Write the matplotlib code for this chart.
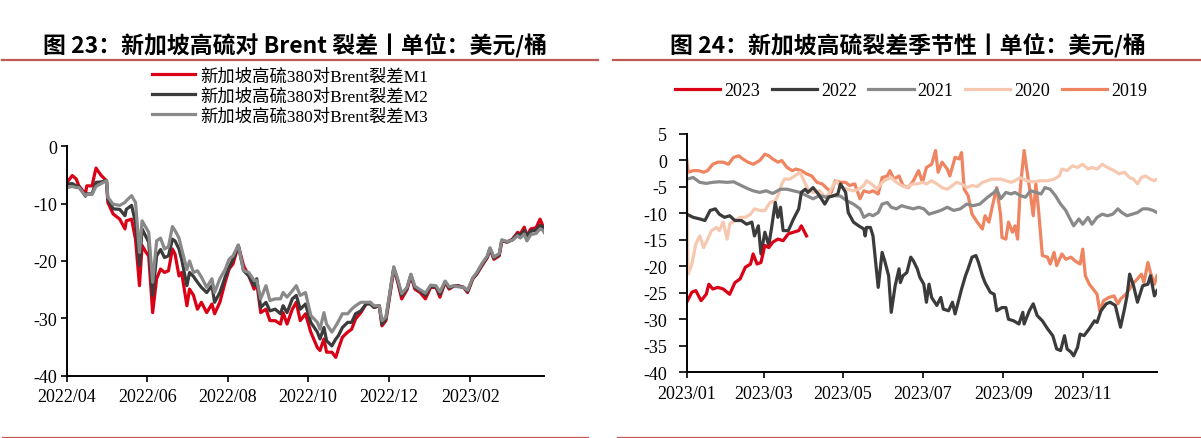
import matplotlib
matplotlib.use("Agg")
from matplotlib import pyplot as plt
from matplotlib.lines import Line2D
import matplotlib.dates as mdates
import pandas as pd

plt.rcParams['font.family'] = ['Liberation Serif', 'Noto Sans CJK SC']
plt.rcParams['axes.unicode_minus'] = False

# ---- left chart: Singapore HSFO 380 vs Brent crack, M1/M2/M3 ----
left_start = "2022-04-01"
left_days = [0, 4, 7, 9, 14, 15, 19, 22, 26, 30,
             31, 35, 40, 44, 45, 49, 52, 55, 57, 60,
             62, 65, 68, 71, 74, 77, 80, 82, 85, 87,
             91, 93, 96, 99, 102, 106, 110, 112, 116, 120,
             123, 126, 130, 134, 138, 142, 144, 147, 151, 154,
             158, 162, 164, 167, 171, 174, 177, 181, 185, 190,
             192, 195, 197, 201, 204, 206, 209, 213, 216, 219,
             223, 227, 230, 233, 237, 239, 242, 245, 248, 251,
             254, 258, 261, 264, 268, 272, 276, 280, 283, 287,
             290, 294, 297, 301, 304, 308, 311, 315, 319, 321,
             324, 328, 330, 334, 338, 342, 344, 347, 349, 352,
             356, 359, 361, 362]
m1 = [-6.3, -5.1, -5.7, -6.9, -8.3, -6.9, -6.9, -3.8, -5.1, -6.0,
      -9.8, -11.8, -12.7, -14.4, -13.0, -12.7, -16.2, -24.3, -17.3, -18.5,
      -19.1, -29.0, -23.1, -21.4, -22.0, -21.7, -17.9, -18.8, -22.6, -22.0,
      -27.8, -24.9, -26.0, -28.4, -27.2, -29.0, -27.5, -29.2, -27.2, -23.7,
      -21.4, -20.5, -17.3, -20.8, -22.6, -24.9, -23.7, -29.0, -28.4, -30.4,
      -30.4, -31.0, -29.0, -31.0, -28.4, -27.2, -30.4, -29.2, -32.4, -35.1,
      -35.6, -33.6, -35.9, -35.9, -36.8, -35.3, -33.3, -32.4, -31.9, -30.1,
      -29.0, -27.5, -27.2, -28.1, -27.8, -31.3, -30.4, -26.0, -21.4, -23.7,
      -26.6, -25.0, -22.6, -24.9, -25.5, -26.6, -24.6, -24.6, -26.3, -23.7,
      -24.9, -24.3, -24.3, -24.6, -25.5, -23.1, -22.3, -20.8, -19.4, -17.9,
      -19.7, -19.1, -16.5, -16.7, -16.2, -15.0, -15.3, -14.1, -15.6, -14.4,
      -14.2, -12.7, -13.8, -14.4]
m2 = [-6.6, -6.5, -6.9, -7.0, -8.7, -8.3, -8.3, -6.3, -6.2, -6.0,
      -9.2, -10.9, -11.0, -12.1, -11.0, -10.3, -13.3, -20.8, -14.4, -15.8,
      -16.7, -26.0, -19.1, -18.0, -19.4, -19.1, -16.2, -16.5, -17.9, -19.7,
      -24.3, -22.0, -22.7, -23.7, -24.6, -25.5, -24.3, -27.2, -25.5, -22.8,
      -21.1, -19.7, -17.3, -21.7, -22.6, -24.3, -23.1, -28.1, -27.2, -28.7,
      -28.4, -29.2, -27.8, -29.0, -26.6, -26.0, -28.4, -27.5, -30.7, -32.4,
      -33.6, -31.6, -33.9, -34.8, -33.6, -33.0, -31.6, -30.7, -30.7, -29.2,
      -28.7, -27.5, -27.5, -28.1, -27.8, -31.0, -30.1, -25.7, -21.2, -23.4,
      -26.0, -24.8, -22.4, -24.6, -25.2, -26.0, -24.4, -24.5, -25.8, -23.6,
      -24.7, -24.3, -24.4, -24.6, -25.3, -23.0, -22.2, -20.6, -19.3, -17.8,
      -19.5, -18.9, -16.4, -16.7, -16.3, -15.3, -15.6, -14.7, -15.6, -14.8,
      -14.6, -13.8, -14.0, -14.5]
m3 = [-7.2, -7.0, -7.2, -7.2, -8.6, -8.4, -8.4, -7.0, -6.5, -6.0,
      -8.9, -10.1, -10.3, -9.8, -9.5, -8.6, -9.8, -18.5, -13.0, -14.2,
      -15.0, -23.7, -16.5, -16.0, -17.9, -17.5, -14.0, -14.7, -16.0, -17.9,
      -21.5, -20.0, -22.0, -21.7, -22.8, -24.6, -23.1, -25.5, -23.1, -21.5,
      -19.7, -19.1, -17.2, -21.7, -22.0, -23.4, -23.4, -26.6, -24.3, -26.9,
      -26.6, -26.6, -25.5, -26.3, -25.2, -24.3, -26.0, -25.5, -29.5, -30.7,
      -31.9, -29.0, -31.0, -32.4, -31.3, -30.5, -29.2, -29.2, -28.4, -27.8,
      -27.2, -27.2, -27.2, -27.8, -27.8, -30.4, -29.8, -25.5, -21.0, -23.2,
      -25.7, -24.6, -22.3, -24.4, -25.0, -25.6, -24.2, -24.3, -25.4, -23.5,
      -24.5, -24.3, -24.5, -24.6, -25.1, -22.9, -22.0, -20.4, -19.1, -17.7,
      -19.3, -18.7, -16.3, -16.6, -16.4, -15.6, -16.0, -15.3, -16.5, -15.4,
      -15.2, -14.4, -14.6, -15.0]
left_labels = ["新加坡高硫380对Brent裂差M1", "新加坡高硫380对Brent裂差M2", "新加坡高硫380对Brent裂差M3"]

# ---- right chart: seasonality, each year mapped onto 2023 calendar ----
right_start = "2023-01-01"
right_end = "2023-12-28"
d23 = [0, 4, 7, 11, 15, 17, 20, 24, 28, 33, 37, 41, 45, 49, 51, 54, 57, 60, 63, 66,
       70, 74, 78, 82, 86, 88, 92]
y23 = [-26.8, -24.9, -24.6, -26.5, -25.3, -23.4, -24.3, -24.0, -24.3, -25.3,
       -23.1, -22.4, -20.2, -19.6, -17.7, -19.6, -19.3, -16.1, -16.5, -15.5,
       -14.9, -15.2, -13.9, -13.6, -13.3, -12.4, -14.3]

d22 = [0, 5, 10, 14, 18, 22, 25, 29, 33, 37,
       42, 46, 50, 52, 55, 57, 60, 63, 65, 68,
       70, 72, 74, 78, 82, 86, 88, 91, 93, 97,
       101, 106, 109, 113, 116, 118, 122, 124, 128, 132,
       136, 137, 138, 141, 143, 147, 150, 152, 155, 157,
       160, 163, 164, 166, 169, 172, 174, 177, 179, 182,
       184, 186, 188, 192, 195, 197, 201, 204, 206, 209,
       211, 214, 216, 219, 222, 224, 227, 229, 233, 236,
       238, 242, 245, 247, 251, 255, 258, 259, 263, 266,
       269, 273, 277, 281, 284, 287, 290, 292, 295, 297,
       300, 302, 305, 309, 313, 315, 318, 322, 325, 329,
       333, 336, 338, 340, 343, 346, 350, 354, 356, 359,
       361]
y22 = [-10.2, -10.8, -11.1, -11.4, -9.5, -9.2, -10.2, -10.8, -10.5, -11.4,
       -11.4, -12.1, -11.7, -14.3, -12.4, -17.7, -13.6, -16.1, -13.0, -8.0,
       -10.8, -8.9, -13.3, -13.3, -11.1, -9.2, -6.1, -5.5, -6.1, -5.2,
       -6.4, -8.3, -7.0, -6.7, -6.4, -4.5, -6.1, -9.9, -11.7, -12.4,
       -13.0, -14.3, -12.7, -12.7, -14.3, -24.0, -17.4, -19.0, -21.8, -28.7,
       -23.7, -20.5, -23.1, -21.8, -21.2, -18.3, -19.0, -20.5, -22.1, -23.4,
       -26.8, -23.4, -25.9, -27.4, -25.9, -28.1, -28.4, -26.8, -29.0, -26.2,
       -24.3, -21.8, -20.5, -18.3, -18.0, -19.3, -21.8, -23.1, -24.9, -25.3,
       -28.4, -27.8, -27.8, -30.0, -30.3, -30.9, -28.7, -30.9, -28.4, -27.1,
       -29.3, -30.3, -31.8, -33.1, -35.6, -35.9, -33.1, -35.6, -36.2, -36.9,
       -35.3, -32.8, -33.1, -31.8, -30.3, -30.6, -28.4, -27.1, -26.8, -27.4,
       -31.5, -28.1, -25.6, -21.5, -23.7, -26.8, -23.7, -23.4, -21.8, -25.6,
       -24.6]

d21 = [0, 5, 10, 15, 20, 25, 31, 36, 41, 46,
       51, 56, 61, 66, 72, 77, 82, 87, 92, 97,
       102, 107, 113, 118, 123, 128, 133, 136, 140, 143,
       147, 150, 154, 157, 161, 165, 169, 174, 178, 182,
       186, 190, 195, 200, 205, 210, 215, 220, 225, 231,
       236, 238, 241, 245, 249, 252, 256, 260, 264, 268,
       272, 275, 279, 283, 287, 291, 293, 297, 301, 304,
       308, 311, 315, 319, 323, 327, 331, 334, 338, 342,
       346, 350, 354, 358, 361]
y21 = [-3.6, -3.3, -4.2, -4.4, -4.2, -4.1, -4.2, -4.1, -4.7, -5.3,
       -5.8, -6.1, -5.8, -6.3, -5.5, -5.5, -5.8, -6.1, -6.7, -7.3,
       -6.7, -7.0, -6.7, -6.8, -7.7, -8.3, -9.2, -10.8, -10.2, -10.5,
       -9.9, -8.3, -8.0, -8.9, -9.2, -8.6, -8.9, -9.2, -8.9, -9.2,
       -10.2, -9.9, -9.5, -8.9, -9.5, -9.2, -8.3, -8.6, -8.3, -7.0,
       -6.1, -5.5, -7.3, -6.1, -6.4, -6.1, -6.7, -7.0, -5.8, -6.1,
       -6.4, -5.2, -5.5, -6.7, -8.3, -9.5, -10.5, -12.4, -11.1, -12.1,
       -10.8, -12.1, -10.8, -10.2, -10.5, -10.2, -9.2, -9.9, -10.5, -10.2,
       -9.9, -9.2, -9.2, -9.5, -9.9]

d20 = [0, 1, 4, 7, 10, 13, 15, 19, 23, 25,
       28, 31, 33, 37, 41, 45, 49, 52, 56, 60,
       64, 68, 70, 73, 75, 79, 83, 87, 90, 93,
       97, 102, 106, 109, 113, 115, 118, 123, 128, 132,
       136, 138, 142, 146, 150, 154, 157, 161, 165, 169,
       173, 177, 181, 184, 188, 192, 196, 200, 204, 207,
       211, 215, 219, 223, 227, 231, 234, 238, 241, 245,
       249, 252, 256, 261, 266, 272, 277, 282, 286, 288,
       292, 296, 300, 304, 308, 311, 315, 319, 323, 328,
       332, 336, 340, 343, 346, 349, 352, 356, 359, 361]
y20 = [-3.0, -21.5, -19.6, -15.8, -14.3, -16.5, -15.5, -13.3, -12.7, -13.3,
       -11.7, -14.9, -12.1, -11.4, -10.8, -10.8, -10.2, -9.2, -9.5, -9.5,
       -8.0, -7.7, -6.7, -4.5, -3.6, -3.6, -3.0, -2.3, -3.9, -5.5,
       -6.1, -5.8, -7.0, -6.4, -4.5, -3.9, -5.0, -5.5, -5.8, -5.5,
       -4.8, -3.9, -4.5, -5.5, -4.2, -3.6, -3.3, -4.2, -4.8, -5.2,
       -4.5, -4.5, -4.2, -4.5, -3.9, -4.5, -5.2, -5.5, -4.8, -4.2,
       -4.5, -5.2, -4.8, -5.0, -4.2, -3.9, -3.6, -3.6, -3.6, -3.9,
       -4.2, -3.9, -3.3, -3.9, -4.1, -3.9, -3.9, -3.6, -3.0, -1.7,
       -2.0, -1.1, -1.4, -0.8, -1.7, -1.4, -1.7, -0.8, -1.4, -2.0,
       -2.6, -2.3, -3.3, -3.6, -4.5, -3.3, -3.0, -3.6, -3.9, -3.6]

d19 = [0, 1, 5, 9, 13, 16, 20, 24, 28, 32,
       36, 40, 43, 47, 51, 56, 60, 63, 66, 70,
       73, 77, 81, 84, 88, 92, 96, 100, 104, 107,
       111, 114, 118, 122, 125, 129, 133, 136, 140, 143,
       147, 150, 154, 156, 159, 163, 166, 170, 174, 178,
       181, 184, 188, 191, 193, 196, 200, 202, 206, 209,
       211, 213, 216, 219, 223, 227, 229, 232, 235, 238,
       241, 242, 245, 247, 250, 252, 254, 256, 259, 261,
       264, 266, 268, 270, 273, 277, 279, 282, 284, 288,
       291, 295, 298, 302, 304, 306, 309, 311, 315, 317,
       320, 324, 328, 331, 333, 337, 340, 342, 346, 349,
       351, 354, 356, 359, 361]
y19 = [0.2, -2.3, -2.0, -2.0, -2.3, -2.0, -0.8, -0.4, -0.4, -0.8,
       0.5, 0.8, 0.2, -0.4, -0.8, -0.1, 1.1, 0.8, 0.2, -0.4,
       -0.1, -1.4, -2.0, -1.7, -2.0, -2.6, -3.0, -4.2, -4.5, -5.2,
       -6.1, -3.9, -4.2, -4.2, -4.8, -4.5, -7.3, -5.8, -6.1, -5.8,
       -6.4, -3.3, -3.0, -2.0, -3.6, -3.0, -4.8, -5.2, -3.9, -2.0,
       -4.2, -1.4, -0.8, 1.8, -2.3, -0.4, -1.7, -3.0, 0.5, 0.2,
       1.4, -5.5, -6.7, -10.2, -11.7, -13.0, -10.5, -11.7, -8.3, -5.2,
       -10.5, -14.6, -14.9, -11.7, -13.6, -12.4, -14.9, -5.5, 1.8, -1.7,
       -6.7, -10.5, -4.5, -9.2, -18.0, -18.3, -19.6, -17.4, -19.9, -17.7,
       -18.7, -18.3, -19.0, -19.6, -16.8, -21.8, -23.4, -24.0, -25.3, -28.4,
       -26.5, -25.9, -25.6, -27.1, -26.2, -25.3, -24.3, -23.4, -22.4, -21.5,
       -23.1, -19.3, -21.2, -23.4, -21.8]

right_series = [("2023", d23, y23, "#DA0016"),
                ("2022", d22, y22, "#3B3B3B"),
                ("2021", d21, y21, "#898989"),
                ("2020", d20, y20, "#F6C8B0"),
                ("2019", d19, y19, "#EE8460")]


def to_dates(start, days):
    return pd.Timestamp(start) + pd.to_timedelta(days, unit="D")


def style_axis(ax, ylo, yhi, ystep, ticklen, ypad):
    for side in ("top", "right"):
        ax.spines[side].set_visible(False)
    for side in ("left", "bottom"):
        ax.spines[side].set_linewidth(1.4)
        ax.spines[side].set_color("black")
    ax.set_ylim(ylo, yhi)
    ax.set_yticks(range(ylo, yhi + 1, ystep))
    ax.tick_params(axis="y", direction="out", length=ticklen, width=1.2, pad=ypad, labelsize=13)
    ax.tick_params(axis="x", direction="out", length=4, width=1.2, pad=5, labelsize=13)
    ax.xaxis.set_major_formatter(mdates.DateFormatter("%Y/%m"))


fig = plt.figure(figsize=(12.01, 4.39), dpi=100)
W, H = 1201, 439

# left
ax1 = fig.add_axes([67 / W, 1 - 376.7 / H, (544 - 67) / W, (376.7 - 147.3) / H])
ldates = to_dates(left_start, left_days)
colors_left = ["#DA0016", "#3B3B3B", "#898989"]
for vals, lab, c in zip([m1, m2, m3], left_labels, colors_left):
    ax1.plot(ldates, vals, color=c, lw=2.3, label=lab)
ax1.set_xlim(ldates[0], ldates[-1])
style_axis(ax1, -40, 0, 10, 4, 3)
ax1.xaxis.set_major_locator(mdates.MonthLocator(bymonth=[2, 4, 6, 8, 10, 12]))
ax1.legend(loc="upper left", bbox_to_anchor=(152 / W, 1 - 69 / H), bbox_transform=fig.transFigure,
           frameon=False, fontsize=12.5, handlelength=2.5, handletextpad=0.3,
           labelspacing=0.22, borderpad=0, borderaxespad=0)

# right
ax2 = fig.add_axes([686.7 / W, 1 - 373.3 / H, (1157 - 686.7) / W, (373.3 - 134.5) / H])
for name, days, vals, c in reversed(right_series):
    ax2.plot(to_dates(right_start, days), vals, color=c, lw=2.3, label=name)
h, l = ax2.get_legend_handles_labels()
ax2.set_xlim(pd.Timestamp(right_start), pd.Timestamp(right_end))
style_axis(ax2, -40, 5, 5, 6, 8)
ax2.xaxis.set_major_locator(mdates.MonthLocator(bymonth=[1, 3, 5, 7, 9, 11]))
ax2.legend(h[::-1], l[::-1], loc="center", bbox_to_anchor=(911 / W, 1 - 92 / H),
           bbox_transform=fig.transFigure, ncol=5, frameon=False, fontsize=13,
           handlelength=2.5, handletextpad=0.22, columnspacing=0.65, borderpad=0)

# titles and decorative rules
title_kw = dict(ha="center", va="center", fontsize=16.5, fontweight="bold",
                family=["Noto Sans CJK SC", "DejaVu Sans"])
fig.text(295 / W, 1 - 45 / H, "图 23：新加坡高硫对 Brent 裂差丨单位：美元/桶", **title_kw)
fig.text(908 / W, 1 - 45 / H, "图 24：新加坡高硫裂差季节性丨单位：美元/桶", **title_kw)
rule = "#BF5A57"
fig.add_artist(Line2D([2 / W, 598 / W], [1 - 61 / H] * 2, color=rule, lw=1.6))
fig.add_artist(Line2D([613 / W, 1], [1 - 61 / H] * 2, color=rule, lw=1.6))
fig.add_artist(Line2D([2 / W, 588 / W], [1 - 437.5 / H] * 2, color=rule, lw=0.9))
fig.add_artist(Line2D([617 / W, 1], [1 - 437.5 / H] * 2, color=rule, lw=0.9))

fig.savefig("out.png", dpi=100)
